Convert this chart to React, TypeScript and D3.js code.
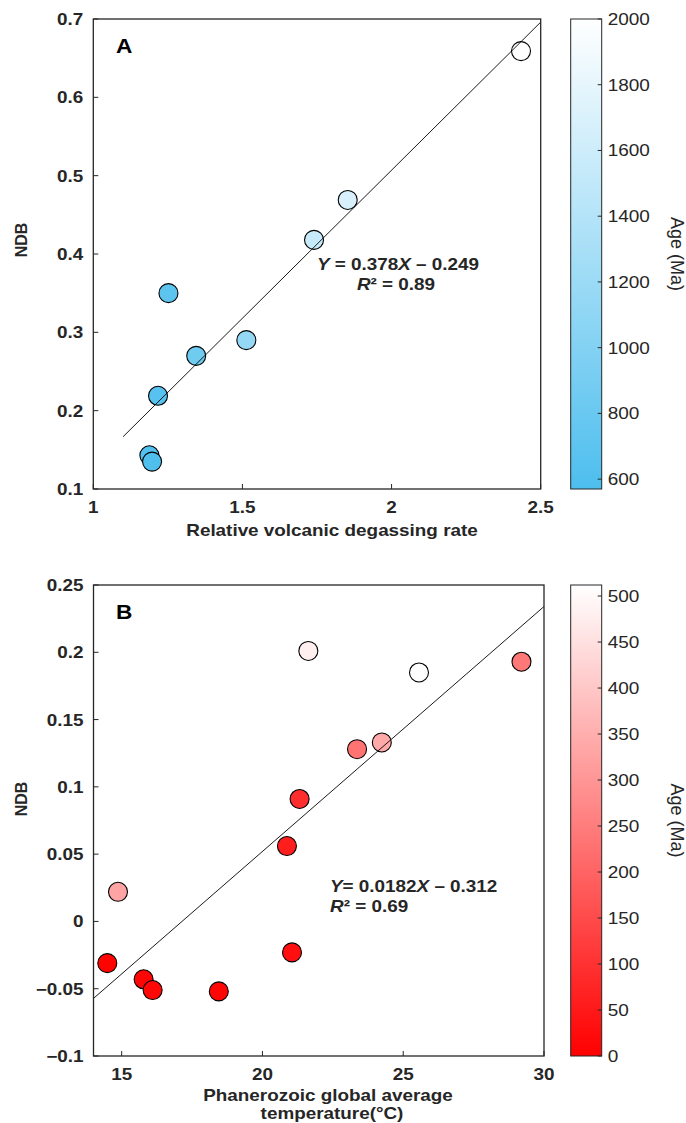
import React from "react";
import * as d3 from "d3";

const FONT = "'Liberation Sans', Arial, Helvetica, sans-serif";
const INK = "#262626";

// ---------- Panel A data ----------
const aRate = [1.188, 1.197, 1.217, 1.252, 1.345, 1.513, 1.74, 1.853, 2.434];
const aNDB = [0.143, 0.135, 0.219, 0.35, 0.27, 0.29, 0.418, 0.469, 0.659];
const aAge = [620, 590, 650, 700, 850, 1150, 1550, 1680, 2000];
const aXTicks = [1, 1.5, 2, 2.5];
const aYTicks = [0.1, 0.2, 0.3, 0.4, 0.5, 0.6, 0.7];
const aCbTicks = [600, 800, 1000, 1200, 1400, 1600, 1800, 2000];
const aCbRange = [570, 2000];
const aFitSlope = 0.378;
const aFitIntercept = -0.249;
const aFitX = [1.1, 2.5];

// ---------- Panel B data ----------
const bTemp = [14.49, 14.87, 15.78, 16.1, 18.45, 21.05, 20.87, 21.32, 23.36, 29.2, 24.24, 21.63, 25.56];
const bNDB = [-0.031, 0.022, -0.043, -0.051, -0.052, -0.023, 0.056, 0.091, 0.128, 0.193, 0.133, 0.201, 0.185];
const bAge = [5, 330, 12, 15, 10, 30, 60, 90, 230, 240, 340, 480, 512];
const bXTicks = [15, 20, 25, 30];
const bYTicks = [-0.1, -0.05, 0, 0.05, 0.1, 0.15, 0.2, 0.25];
const bCbTicks = [0, 50, 100, 150, 200, 250, 300, 350, 400, 450, 500];
const bCbRange = [0, 512];
const bFitSlope = 0.0182;
const bFitIntercept = -0.312;
const bFitX = [14, 30];

type Box = { left: number; right: number; top: number; bottom: number };

function HText(props: any) {
  const { x, y, sx = 1.18, anchor = "start", size = 16, weight = "bold", fill = INK, children } = props;
  return (
    <text
      transform={`translate(${x},${y}) scale(${sx},1)`}
      textAnchor={anchor}
      fontSize={size}
      fontWeight={weight}
      fontFamily={FONT}
      fill={fill}
    >
      {children}
    </text>
  );
}

function Panel(props: any) {
  const {
    box, xDomain, yDomain, xTicks, yTicks, xs, ys, ages, cbRange, cbTicks,
    lowColor, highColor, fitSlope, fitIntercept, fitX, letter, gradId,
    xFmt, yFmt, children, ndbY,
  } = props as any;
  const b: Box = box;
  const x = d3.scaleLinear().domain(xDomain).range([b.left, b.right]);
  const y = d3.scaleLinear().domain(yDomain).range([b.bottom, b.top]);
  const c = d3
    .scaleLinear<string>()
    .domain(cbRange)
    .range([lowColor, highColor])
    .interpolate(d3.interpolateRgb);
  const cbY = d3.scaleLinear().domain(cbRange).range([b.bottom, b.top]);
  const cbX0 = 570.7;
  const cbX1 = 601.7;
  const fitLine = d3
    .line<number>()
    .x((v) => x(v))
    .y((v) => y(fitSlope * v + fitIntercept))(fitX) as string;
  const tick = 5;
  return (
    <g>
      <defs>
        <linearGradient id={gradId} x1="0" y1="1" x2="0" y2="0">
          <stop offset="0" stopColor={lowColor} />
          <stop offset="1" stopColor={highColor} />
        </linearGradient>
      </defs>
      {/* points */}
      {xs.map((v: number, i: number) => (
        <circle key={i} cx={x(v)} cy={y(ys[i])} r={9.5} fill={c(ages[i])} stroke="#000" strokeWidth={1.1} />
      ))}
      {/* fit line */}
      <path d={fitLine} fill="none" stroke="#000" strokeWidth={0.9} />
      {/* axes box */}
      <rect x={b.left} y={b.top} width={b.right - b.left} height={b.bottom - b.top} fill="none" stroke={INK} strokeWidth={1.3} />
      {xTicks.map((t: number) => (
        <g key={"xt" + t}>
          <line x1={x(t)} x2={x(t)} y1={b.bottom} y2={b.bottom - tick} stroke={INK} strokeWidth={1} />
          <HText x={x(t)} y={b.bottom + 24} anchor="middle">{xFmt(t)}</HText>
        </g>
      ))}
      {yTicks.map((t: number) => (
        <g key={"yt" + t}>
          <line x1={b.left} x2={b.left + tick} y1={y(t)} y2={y(t)} stroke={INK} strokeWidth={1} />
          <HText x={b.left - 10} y={y(t) + 6} anchor="end">{yFmt(t)}</HText>
        </g>
      ))}
      <text
        transform={`translate(27,${ndbY}) rotate(-90)`}
        textAnchor="middle"
        fontSize={16}
        fontWeight="bold"
        fontFamily={FONT}
        fill={INK}
      >
        NDB
      </text>
      <HText x={116} y={b.top + 34} size={21} sx={1.08} fill="#000">{letter}</HText>
      {/* colorbar */}
      <rect x={cbX0} y={b.top} width={cbX1 - cbX0} height={b.bottom - b.top} fill={`url(#${gradId})`} stroke={INK} strokeWidth={1} />
      {cbTicks.map((t: number) => (
        <g key={"ct" + t}>
          <line x1={cbX1 - 4} x2={cbX1} y1={cbY(t)} y2={cbY(t)} stroke={INK} strokeWidth={1} />
          <HText x={cbX1 + 6} y={cbY(t) + 6} size={16.5} weight="normal" sx={1.15}>{String(t)}</HText>
        </g>
      ))}
      <text
        transform={`translate(677,${(b.top + b.bottom) / 2}) rotate(90)`}
        textAnchor="middle"
        dy="0.35em"
        fontSize={18}
        fontFamily={FONT}
        fill={INK}
      >
        Age (Ma)
      </text>
      {children}
    </g>
  );
}

export default function App() {
  const A: Box = { left: 93.3, right: 540.7, top: 19, bottom: 489 };
  const B: Box = { left: 93.5, right: 544, top: 585, bottom: 1056 };
  const fmt = d3.format("~g");
  return (
    <svg
      width={686}
      height={1123}
      viewBox="0 0 686 1123"
      style={{ position: "absolute", left: 0, top: 0, background: "#fff" }}
    >
      <rect x={0} y={0} width={686} height={1123} fill="#fff" />
      <Panel
        box={A}
        xDomain={[1, 2.5]}
        yDomain={[0.1, 0.7]}
        xTicks={aXTicks}
        yTicks={aYTicks}
        xs={aRate}
        ys={aNDB}
        ages={aAge}
        cbRange={aCbRange}
        cbTicks={aCbTicks}
        lowColor="#4DBEEE"
        highColor="#FFFFFF"
        fitSlope={aFitSlope}
        fitIntercept={aFitIntercept}
        fitX={aFitX}
        letter="A"
        gradId="gradA"
        xFmt={fmt}
        yFmt={fmt}
        ndbY={240}
      >
        <HText x={398} y={270} anchor="middle" size={16}>
          <tspan fontStyle="italic">Y</tspan> = 0.378<tspan fontStyle="italic">X</tspan> – 0.249
        </HText>
        <HText x={396} y={290} anchor="middle" size={16}>
          <tspan fontStyle="italic">R</tspan>² = 0.89
        </HText>
        <HText x={332} y={536} anchor="middle" size={16}>Relative volcanic degassing rate</HText>
      </Panel>
      <Panel
        box={B}
        xDomain={[14, 30]}
        yDomain={[-0.1, 0.25]}
        xTicks={bXTicks}
        yTicks={bYTicks}
        xs={bTemp}
        ys={bNDB}
        ages={bAge}
        cbRange={bCbRange}
        cbTicks={bCbTicks}
        lowColor="#FF0000"
        highColor="#FFFFFF"
        fitSlope={bFitSlope}
        fitIntercept={bFitIntercept}
        fitX={bFitX}
        letter="B"
        gradId="gradB"
        xFmt={fmt}
        yFmt={fmt}
        ndbY={799}
      >
        <HText x={330} y={892} size={16}>
          <tspan fontStyle="italic">Y</tspan>= 0.0182<tspan fontStyle="italic">X</tspan> – 0.312
        </HText>
        <HText x={330} y={912} size={16}>
          <tspan fontStyle="italic">R</tspan>² = 0.69
        </HText>
        <HText x={328} y={1101} anchor="middle" size={16}>Phanerozoic global average</HText>
        <HText x={332} y={1119} anchor="middle" size={16}>temperature(°C)</HText>
      </Panel>
    </svg>
  );
}
